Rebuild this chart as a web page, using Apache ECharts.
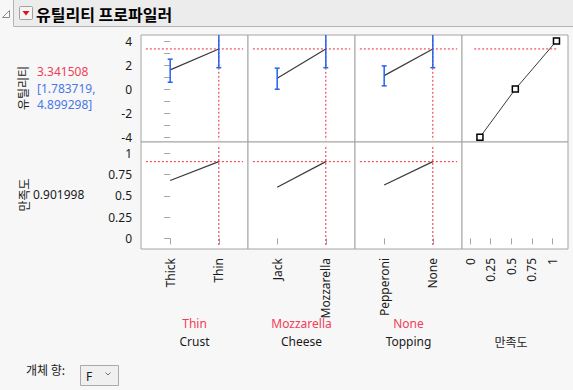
<!DOCTYPE html>
<html>
<head>
<meta charset="utf-8">
<script src="https://cdn.jsdelivr.net/npm/echarts@6/dist/echarts.min.js"></script>
<style>
html,body{margin:0;padding:0;background:#f7f7f7;}
#chart{width:573px;height:390px;}
</style>
</head>
<body>
<div id="chart"></div>
<script>
// ---- data ----
const factorNames = ['Crust', 'Cheese', 'Topping'];
const factorLevels = [['Thick', 'Thin'], ['Jack', 'Mozzarella'], ['Pepperoni', 'None']];
const currentLevels = ['Thin', 'Mozzarella', 'None'];
const utilityMeans = [[1.60, 3.3415], [0.90, 3.3415], [1.12, 3.3415]];
const utilityLower = [[0.57, 1.7837], [-0.01, 1.7837], [0.27, 1.7837]];
const utilityUpper = [[2.49, 4.8993], [1.74, 4.8993], [1.93, 4.8993]];
const desirabilityValues = [[0.68, 0.902], [0.60, 0.902], [0.627, 0.902]];
const currentUtility = 3.341508;
const utilityCI = [1.783719, 4.899298];
const currentDesirability = 0.901998;
const desirFuncX = [0.12, 0.55, 1.05];
const desirFuncY = [-4, 0, 4];
const utilityTickLabels = [-4, -2, 0, 2, 4];
const utilityMinorTicks = [-4, -3, -2, -1, 0, 1, 2, 3, 4];
const desirTickLabels = [0, 0.25, 0.5, 0.75, 1];
const rowTitles = ['유틸리티', '만족도'];
const desirColTitle = '만족도';
const titleText = '유틸리티 프로파일러';
const objectLabel = '개체 향:';
const objectValue = 'F';

// ---- styles ----
const FONT = "'Noto Sans', 'Noto Sans CJK KR', sans-serif";
const KFONT = "'Noto Sans CJK KR', 'Noto Sans', sans-serif";
const RED = '#ee2a40';
const REDTXT = '#f04058';
const BLUE = '#2562ee';
const BLUETXT = '#4a78e8';
const BORDER = '#a4a4a4';
const TXT = '#1a1a1a';

const colLeft = [141, 248, 355, 462];
const colW = [107, 107, 107, 106];
const rowTop = [35, 142];
const rowH = 107;
const yRanges = [[-4.4, 4.5], [-0.125, 1.133]];
const factorXRange = [-0.6, 1.6];
const desirXRange = [-0.098, 1.19];

const grids = [], xAxes = [], yAxes = [], series = [];
for (let r = 0; r < 2; r++) {
  for (let c = 0; c < 4; c++) {
    const gi = r * 4 + c;
    grids.push({left: colLeft[c], top: rowTop[r], width: colW[c], height: rowH,
      show: true, borderColor: BORDER, borderWidth: 1, backgroundColor: '#ffffff'});
    const isDes = c === 3;
    const showX = r === 1;
    xAxes.push({
      type: 'value', gridIndex: gi,
      min: isDes ? desirXRange[0] : factorXRange[0],
      max: isDes ? desirXRange[1] : factorXRange[1],
      show: showX,
      position: 'bottom',
      axisLine: {show: false},
      splitLine: {show: false},
      axisTick: {show: true, length: 6, lineStyle: {color: BORDER},
        customValues: isDes ? desirTickLabels : [0, 1]},
      axisLabel: {show: true, rotate: 90, margin: 9, fontSize: 12, fontFamily: FONT, color: TXT,
        customValues: isDes ? desirTickLabels : [0, 1],
        formatter: isDes ? (v => String(v)) : (v => factorLevels[c][Math.round(v)])}
    });
    const showY = c === 0;
    yAxes.push({
      type: 'value', gridIndex: gi,
      min: yRanges[r][0], max: yRanges[r][1],
      show: showY,
      axisLine: {show: false},
      splitLine: {show: false},
      axisTick: {show: true, length: 6, lineStyle: {color: BORDER},
        customValues: r === 0 ? utilityMinorTicks : desirTickLabels},
      axisLabel: {show: true, margin: 9, fontSize: 12, fontFamily: FONT, color: TXT,
        customValues: r === 0 ? utilityTickLabels : desirTickLabels,
        formatter: v => String(v)}
    });
  }
}

function refLine(gi, p1, p2) {
  series.push({
    type: 'line', xAxisIndex: gi, yAxisIndex: gi, silent: true, z: 1, symbol: 'none',
    animation: false, color: RED,
    lineStyle: {color: RED, width: 1, type: [2, 2]},
    data: [p1, p2]
  });
}

// factor panels
for (let c = 0; c < 3; c++) {
  const curIdx = factorLevels[c].indexOf(currentLevels[c]);
  // top row: utility
  const giT = c;
  refLine(giT, [-0.5, currentUtility], [1.5, currentUtility]);
  refLine(giT, [curIdx, 4.1], [curIdx, -4.25]);
  series.push({type: 'line', xAxisIndex: giT, yAxisIndex: giT, symbol: 'none', z: 3,
    lineStyle: {color: '#3a3a3a', width: 1.2}, animation: false,
    data: utilityMeans[c].map((v, i) => [i, v])});
  series.push({type: 'custom', xAxisIndex: giT, yAxisIndex: giT, z: 4, animation: false,
    data: utilityMeans[c].map((v, i) => [i, utilityLower[c][i], utilityUpper[c][i]]),
    renderItem: (params, api) => {
      const cs = params.coordSys;
      const x = api.value(0);
      const pLo = api.coord([x, api.value(1)]);
      const pHi = api.coord([x, api.value(2)]);
      const yTop = cs.y, yBot = cs.y + cs.height;
      const clamp = y => Math.max(yTop, Math.min(yBot, y));
      const st = {stroke: BLUE, lineWidth: 1.5};
      const cw = 2.5;
      const ch = [{type: 'line', shape: {x1: pLo[0], y1: clamp(pLo[1]), x2: pHi[0], y2: clamp(pHi[1])}, style: st}];
      if (pLo[1] <= yBot && pLo[1] >= yTop) ch.push({type: 'line', shape: {x1: pLo[0] - cw, y1: pLo[1], x2: pLo[0] + cw, y2: pLo[1]}, style: st});
      if (pHi[1] <= yBot && pHi[1] >= yTop) ch.push({type: 'line', shape: {x1: pHi[0] - cw, y1: pHi[1], x2: pHi[0] + cw, y2: pHi[1]}, style: st});
      return {type: 'group', children: ch};
    }});
  // bottom row: desirability
  const giB = 4 + c;
  refLine(giB, [-0.5, currentDesirability], [1.5, currentDesirability]);
  refLine(giB, [curIdx, 1.074], [curIdx, -0.09]);
  series.push({type: 'line', xAxisIndex: giB, yAxisIndex: giB, symbol: 'none', z: 3,
    lineStyle: {color: '#3a3a3a', width: 1.2}, animation: false,
    data: desirabilityValues[c].map((v, i) => [i, v])});
}
// desirability function panel
refLine(3, [0.05, currentUtility], [1.05, currentUtility]);
series.push({type: 'line', xAxisIndex: 3, yAxisIndex: 3, z: 3, animation: false,
  symbol: 'rect', symbolSize: 6,
  itemStyle: {color: '#ffffff', borderColor: '#000000', borderWidth: 1.5},
  lineStyle: {color: '#3a3a3a', width: 1},
  data: desirFuncX.map((x, i) => [x, desirFuncY[i]])});
series.push({type: 'line', xAxisIndex: 7, yAxisIndex: 7, data: []});

// ---- graphics (text, header, controls) ----
const graphic = [
  {type: 'rect', shape: {x: 13.5, y: -1, width: 570, height: 27.5}, style: {fill: '#ececec', stroke: '#b4b4b4', lineWidth: 1}, z: 0},
  {type: 'polygon', shape: {points: [[9.5, 10.5], [9.5, 17.5], [2.5, 17.5]]}, style: {fill: '#ffffff', stroke: '#8a8a8a', lineWidth: 1}},
  {type: 'rect', shape: {x: 19.5, y: 6.5, width: 13, height: 13, r: 1}, style: {fill: '#f4f4f4', stroke: '#a0a0a0', lineWidth: 1}},
  {type: 'polygon', shape: {points: [[22.5, 11], [29.5, 11], [26, 15.5]]}, style: {fill: '#e0101e'}},
  {type: 'text', x: 36, y: 13.5, style: {text: titleText, font: 'bold 16px ' + KFONT, fill: '#000', textVerticalAlign: 'middle'}},
  // row titles
  {type: 'text', x: 22, y: 88, rotation: Math.PI / 2, style: {text: rowTitles[0], font: '12px ' + KFONT, fill: TXT, textAlign: 'center', textVerticalAlign: 'middle'}},
  {type: 'text', x: 37, y: 71, style: {text: currentUtility.toFixed(6), font: '12px ' + FONT, fill: REDTXT, textVerticalAlign: 'middle'}},
  {type: 'text', x: 37, y: 88.5, style: {text: '[' + utilityCI[0].toFixed(6) + ',', font: '12px ' + FONT, fill: BLUETXT, textVerticalAlign: 'middle'}},
  {type: 'text', x: 37, y: 104, style: {text: utilityCI[1].toFixed(6) + ']', font: '12px ' + FONT, fill: BLUETXT, textVerticalAlign: 'middle'}},
  {type: 'text', x: 23, y: 195, rotation: Math.PI / 2, style: {text: rowTitles[1], font: '12px ' + KFONT, fill: TXT, textAlign: 'center', textVerticalAlign: 'middle'}},
  {type: 'text', x: 33, y: 194, style: {text: currentDesirability.toFixed(6), font: '12px ' + FONT, fill: TXT, textVerticalAlign: 'middle'}},
  // controls
  {type: 'text', x: 26, y: 369, style: {text: objectLabel, font: '12px ' + KFONT, fill: TXT, textVerticalAlign: 'middle'}},
  {type: 'rect', shape: {x: 80.5, y: 365.5, width: 38, height: 20}, style: {fill: '#f0f0f0', stroke: '#ababab', lineWidth: 1}},
  {type: 'text', x: 86, y: 376, style: {text: objectValue, font: '12px ' + FONT, fill: TXT, textVerticalAlign: 'middle'}},
  {type: 'polyline', shape: {points: [[105.5, 372.5], [108, 375], [110.5, 372.5]]}, style: {stroke: '#707070', lineWidth: 1, fill: null}}
];
for (let c = 0; c < 3; c++) {
  const cx = colLeft[c] + colW[c] / 2;
  graphic.push({type: 'text', x: cx, y: 323, style: {text: currentLevels[c], font: '12px ' + FONT, fill: REDTXT, textAlign: 'center', textVerticalAlign: 'middle'}});
  graphic.push({type: 'text', x: cx, y: 341, style: {text: factorNames[c], font: '12px ' + FONT, fill: TXT, textAlign: 'center', textVerticalAlign: 'middle'}});
}
graphic.push({type: 'text', x: 511, y: 341, style: {text: desirColTitle, font: '12px ' + KFONT, fill: TXT, textAlign: 'center', textVerticalAlign: 'middle'}});

const chart = echarts.init(document.getElementById('chart'), null, {renderer: 'svg'});
chart.setOption({
  backgroundColor: '#f7f7f7',
  animation: false,
  grid: grids, xAxis: xAxes, yAxis: yAxes, series: series, graphic: graphic
});
</script>
</body>
</html>
